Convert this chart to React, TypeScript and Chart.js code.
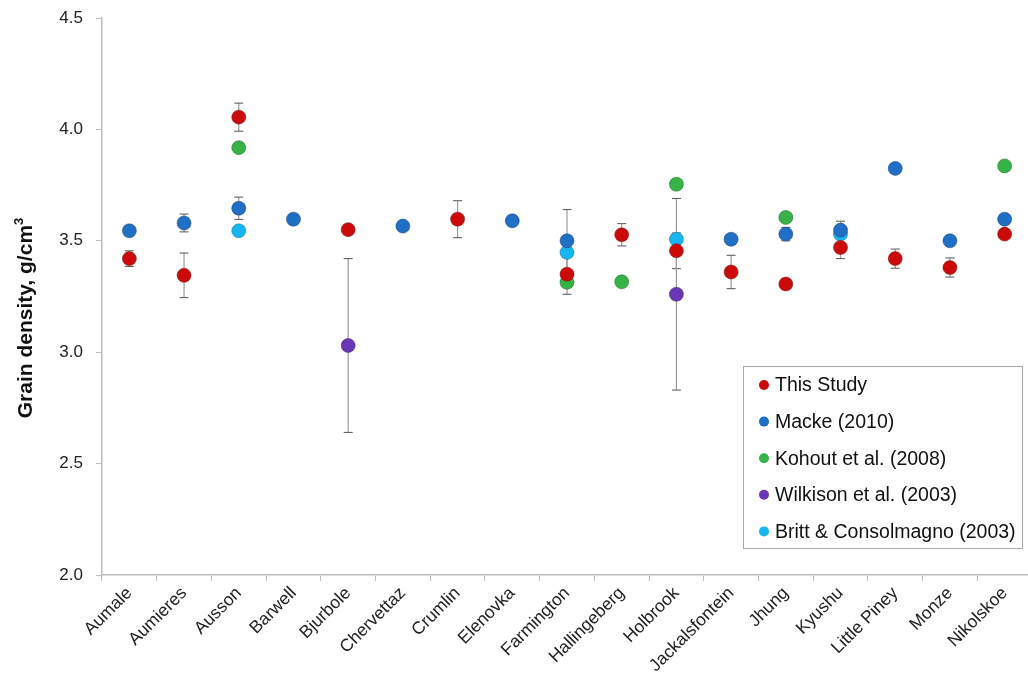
import React, { useEffect, useRef } from "react";
import { Chart, registerables } from "chart.js";

Chart.register(...registerables);

// Meteorites on the x axis
const categories = [
  "Aumale", "Aumieres", "Ausson", "Barwell", "Bjurbole", "Chervettaz", "Crumlin",
  "Elenovka", "Farmington", "Hallingeberg", "Holbrook", "Jackalsfontein", "Jhung",
  "Kyushu", "Little Piney", "Monze", "Nikolskoe",
];

// Grain density (g/cm3) per study, null where not measured
const thisStudy = [3.42, 3.345, 4.055, null, 3.55, null, 3.597, null, 3.35, 3.527, 3.455, 3.36, 3.306, 3.47, 3.42, 3.38, 3.53];
const thisStudyErr = [0.035, 0.1, 0.063, null, null, null, 0.083, null, 0.09, 0.05, 0.08, 0.075, null, 0.05, 0.043, 0.043, 0.02];

const macke = [3.545, 3.58, 3.646, 3.597, null, 3.566, null, 3.59, 3.5, null, null, 3.507, 3.53, 3.548, 3.825, 3.5, 3.597];
const mackeErr = [null, 0.04, 0.05, null, null, null, null, 0.02, 0.14, null, null, 0.02, 0.03, 0.04, null, null, null];

const kohout = [null, null, 3.918, null, null, null, null, null, 3.314, 3.316, 3.754, null, 3.605, null, null, null, 3.836];
const wilkison = [null, null, null, null, 3.03, null, null, null, null, null, 3.26, null, null, null, null, null, null];
const wilkisonErr = [null, null, null, null, 0.39, null, null, null, null, null, 0.43, null, null, null, null, null, null];
const britt = [null, null, 3.545, null, null, null, null, null, 3.448, null, 3.507, null, null, 3.53, null, null, null];

const yTicks = [2.0, 2.5, 3.0, 3.5, 4.0, 4.5];

const FONT = "'Liberation Sans', Arial, sans-serif";

// Vertical error bars with caps, drawn underneath the markers
const errorBars = {
  id: "errorBars",
  beforeDatasetsDraw(chart: any) {
    const ctx = chart.ctx;
    const y = chart.scales.y;
    ctx.save();
    chart.data.datasets.forEach((ds: any, i: number) => {
      if (!ds.errors) return;
      const meta = chart.getDatasetMeta(i);
      ds.errors.forEach((e: number | null, j: number) => {
        const v = ds.data[j];
        if (e == null || v == null) return;
        const x = meta.data[j].x;
        const top = y.getPixelForValue(v + e);
        const bot = y.getPixelForValue(v - e);
        ctx.strokeStyle = "#9a9a9a";
        ctx.lineWidth = 1.2;
        ctx.beginPath();
        ctx.moveTo(x, top);
        ctx.lineTo(x, bot);
        ctx.stroke();
        ctx.strokeStyle = "#555";
        ctx.lineWidth = 1;
        ctx.beginPath();
        ctx.moveTo(x - 4.5, top);
        ctx.lineTo(x + 4.5, top);
        ctx.moveTo(x - 4.5, bot);
        ctx.lineTo(x + 4.5, bot);
        ctx.stroke();
      });
    });
    ctx.restore();
  },
};

// Rotated y-axis title with a superscript exponent
const yTitle = {
  id: "yTitle",
  afterDraw(chart: any) {
    const ctx = chart.ctx;
    const main = "Grain density, g/cm";
    const sup = "3";
    ctx.save();
    ctx.translate(26, 318);
    ctx.rotate(-Math.PI / 2);
    ctx.fillStyle = "#111";
    ctx.textBaseline = "middle";
    ctx.textAlign = "left";
    ctx.font = `bold 21px ${FONT}`;
    const wMain = ctx.measureText(main).width;
    ctx.font = `bold 13px ${FONT}`;
    const wSup = ctx.measureText(sup).width;
    const start = -(wMain + wSup) / 2;
    ctx.font = `bold 21px ${FONT}`;
    ctx.fillText(main, start, 0);
    ctx.font = `bold 13px ${FONT}`;
    ctx.fillText(sup, start + wMain, -7);
    ctx.restore();
  },
};

// Boxed legend in the lower right of the plot
const boxLegend = {
  id: "boxLegend",
  afterDraw(chart: any) {
    const ctx = chart.ctx;
    const left = 743, top = 366, w = 279, h = 182;
    ctx.save();
    ctx.fillStyle = "#fff";
    ctx.fillRect(left, top, w, h);
    ctx.strokeStyle = "#a8a8a8";
    ctx.lineWidth = 1;
    ctx.strokeRect(left + 0.5, top + 0.5, w, h);
    ctx.font = `19.5px ${FONT}`;
    ctx.textBaseline = "middle";
    ctx.textAlign = "left";
    chart.data.datasets.forEach((ds: any, i: number) => {
      const cy = top + 19 + i * 36.6;
      ctx.fillStyle = ds.backgroundColor;
      ctx.beginPath();
      ctx.arc(764, cy, 5, 0, Math.PI * 2);
      ctx.fill();
      ctx.fillStyle = "#111";
      ctx.fillText(ds.label, 775, cy + 1);
    });
    ctx.restore();
  },
};

function series(label: string, data: (number | null)[], color: string, edge: string, errors?: (number | null)[]) {
  return {
    label,
    data,
    errors,
    showLine: false,
    backgroundColor: color,
    borderColor: edge,
    pointBackgroundColor: color,
    pointBorderColor: edge,
    pointBorderWidth: 1,
    pointRadius: 7,
    pointHoverRadius: 7,
  };
}

export default function App() {
  const ref = useRef<HTMLCanvasElement>(null);

  useEffect(() => {
    if (!ref.current) return;
    const chart = new Chart(ref.current, {
      type: "line",
      data: {
        labels: categories,
        datasets: [
          series("This Study", thisStudy, "#cc0a0a", "rgba(120,30,30,0.55)", thisStudyErr),
          series("Macke (2010)", macke, "#1f6fc5", "rgba(30,60,110,0.5)", mackeErr),
          series("Kohout et al. (2008)", kohout, "#35b347", "rgba(40,100,40,0.5)"),
          series("Wilkison et al. (2003)", wilkison, "#6a38b4", "rgba(70,40,110,0.5)", wilkisonErr),
          series("Britt & Consolmagno (2003)", britt, "#18b6f0", "rgba(20,110,150,0.5)"),
        ] as any,
      },
      options: {
        animation: false,
        responsive: false,
        devicePixelRatio: 1,
        layout: { padding: { top: 18, right: 4, left: 0, bottom: 0 } },
        plugins: { legend: { display: false }, tooltip: { enabled: false } },
        scales: {
          x: {
            type: "category",
            offset: true,
            grid: { offset: true, drawOnChartArea: false, drawTicks: true, tickLength: 6, color: "#bdbdbd" },
            border: { color: "#bdbdbd", width: 1.5 },
            ticks: {
              autoSkip: false,
              maxRotation: 45,
              minRotation: 45,
              padding: 2,
              color: "#222",
              font: { family: FONT, size: 17.5 },
            },
            afterFit: (s: any) => {
              s.height = 114;
              s.paddingLeft = 0;
              s.paddingRight = 0;
            },
          },
          y: {
            min: 2,
            max: 4.5,
            afterBuildTicks: (s: any) => { s.ticks = yTicks.map((v) => ({ value: v })); },
            grid: { drawOnChartArea: false, drawTicks: true, tickLength: 6, color: "#bdbdbd" },
            border: { color: "#bdbdbd", width: 1.5 },
            ticks: {
              padding: 13,
              color: "#222",
              font: { family: FONT, size: 17 },
              callback: (v: any) => Number(v).toFixed(1),
            },
            afterFit: (s: any) => {
              s.width = 102;
              s.paddingTop = 0;
              s.paddingBottom = 0;
            },
          },
        },
      },
      plugins: [errorBars, yTitle, boxLegend],
    });
    return () => chart.destroy();
  }, []);

  return (
    <div style={{ position: "absolute", left: 0, top: 0, width: 1028, height: 689, overflow: "hidden", background: "#fff" }}>
      <canvas ref={ref} width={1040} height={689} style={{ width: 1040, height: 689, display: "block" }} />
    </div>
  );
}
